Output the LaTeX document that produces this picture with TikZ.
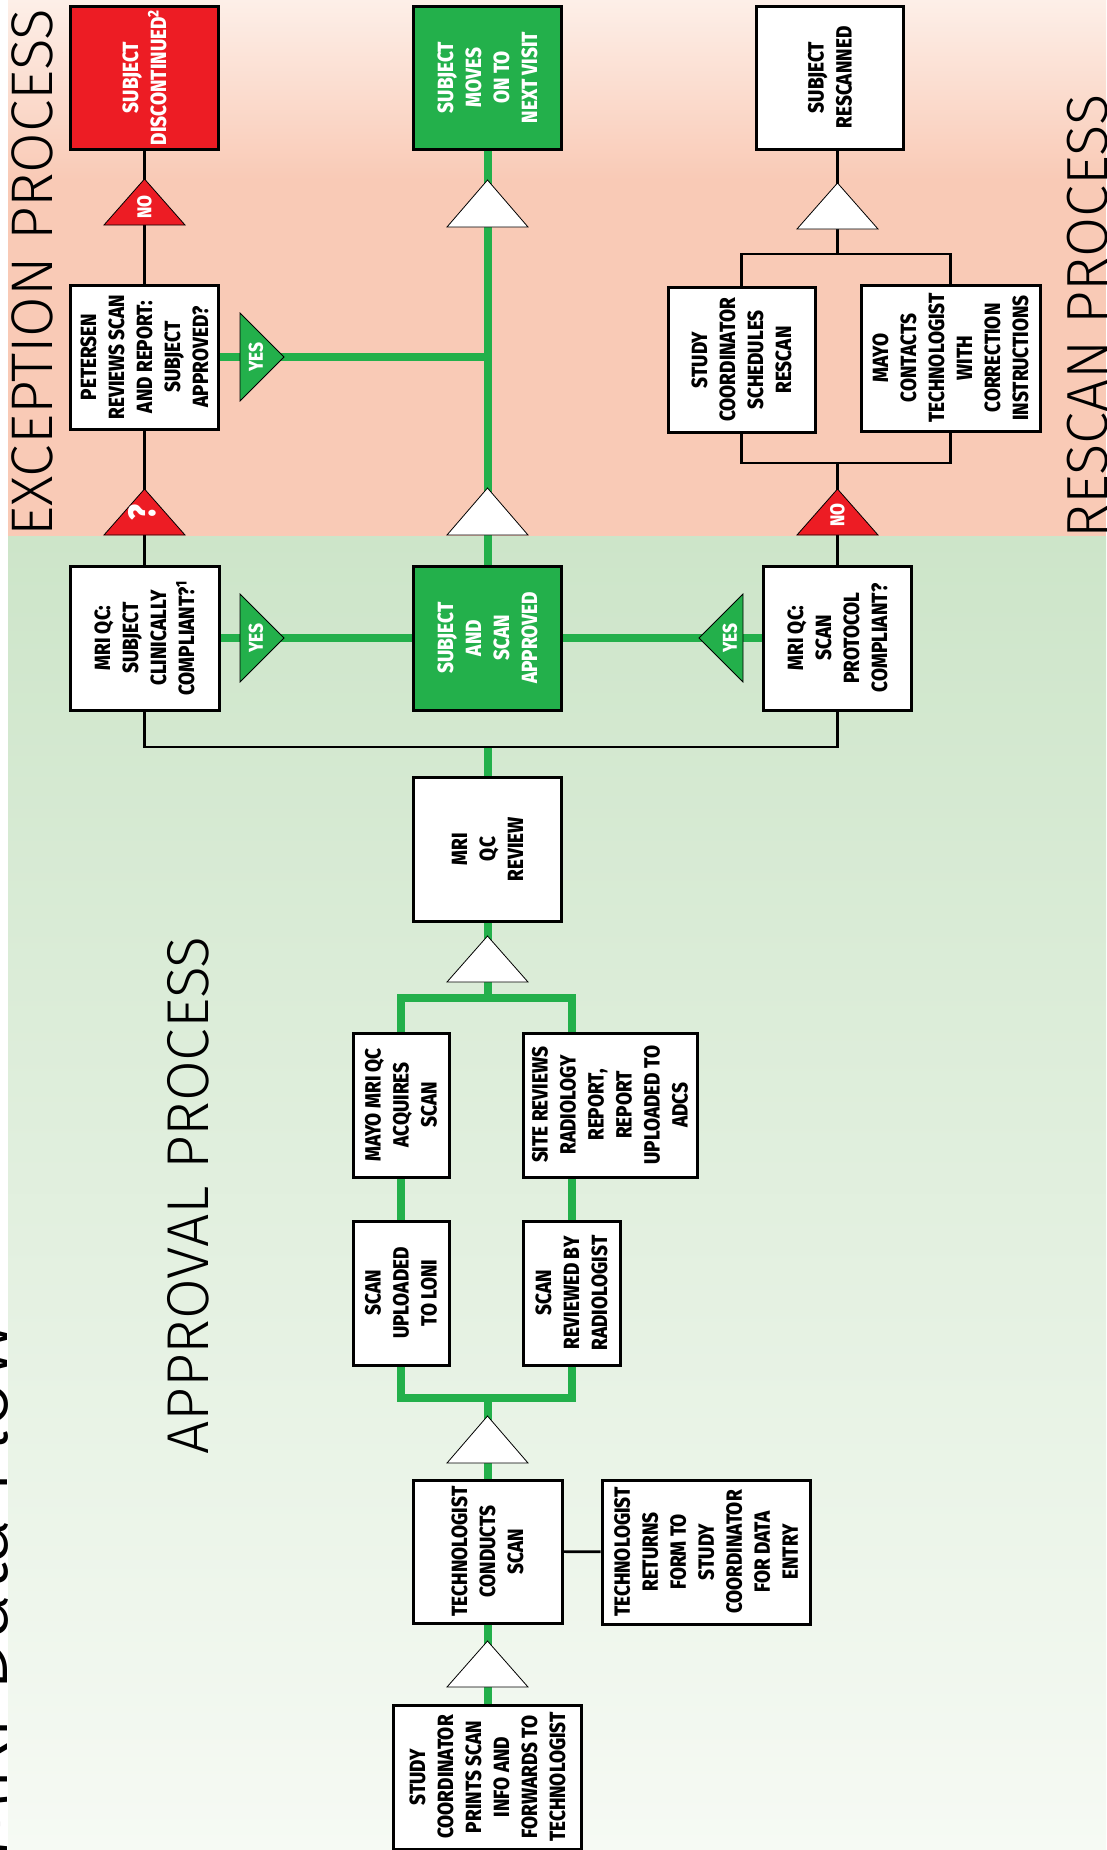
\documentclass[tikz,border=0pt]{standalone}
\usepackage{fontspec}
\setmainfont{Fira Sans}
\newfontfamily\boxfont{Fira Sans}[FakeStretch=0.86, BoldFont={Fira Sans ExtraBold}]
\newfontfamily\headfont{Fira Sans Light}
\usetikzlibrary{calc}
\pgfdeclarelayer{back}
\pgfdeclarelayer{wires}
\pgfsetlayers{back,wires,main}

\tikzset{
  box/.style={draw=black, line width=3pt, fill=white, rotate=90, align=center,
    inner sep=0pt, font=\boxfont\bfseries\fontsize{22}{28}\selectfont},
  head/.style={rotate=90, inner sep=0pt, anchor=base west, text=black},
  wire/.style={draw=black, line width=2.6pt, line join=miter},
  flow/.style={draw=r35g176b75, line width=8pt, line join=miter},
  tri/.style={draw=black, line width=0.8pt},
  tlabel/.style={rotate=90, inner sep=0pt, text=white,
    font=\boxfont\bfseries\fontsize{20}{20}\selectfont}
}

\begin{document}
\begin{tikzpicture}[x=1pt,y=-1pt]
                        \useasboundingbox (0,0) rectangle (1106,1850);

                        % Changing color 237 28 36
                        \definecolor{r237g28b36}{rgb}{0.929412,0.109804,0.141176}%
                        % Changing color 35 176 75
                        \definecolor{r35g176b75}{rgb}{0.137255,0.690196,0.294118}%
                        % Changing color 253 239 232
                        \definecolor{r253g239b232}{rgb}{0.992157,0.937255,0.909804}%
                        % Changing color 249 202 182
                        \definecolor{r249g202b182}{rgb}{0.976471,0.792157,0.713725}%
                        % Changing color 205 229 201
                        \definecolor{r205g229b201}{rgb}{0.803922,0.898039,0.788235}%
                        % Changing color 246 250 244
                        \definecolor{r246g250b244}{rgb}{0.964706,0.980392,0.956863}%

                        % Filling bands
                        \begin{pgfonlayer}{back}
                        \fill[white] (0,0) rectangle (1106,1850);
                        \shade[top color=r253g239b232, bottom color=r249g202b182] (8,0) rectangle (1106,180);
                        \fill[r249g202b182] (8,179) rectangle (1106,536);
                        \shade[top color=r205g229b201, bottom color=r246g250b244] (8,536) rectangle (1106,1850);
                        \end{pgfonlayer}

                        % Writing titles
                        \node[head, font=\headfont\fontsize{86}{86}\selectfont] (title) at (7,1858) {MRI Data Flow};
                        \node[head, font=\headfont\fontsize{58.7}{58.7}\selectfont] (exch) at (52,537) {EXCEPTION PROCESS};
                        \node[head, font=\headfont\fontsize{58}{58}\selectfont] (resch) at (1107,539) {RESCAN PROCESS};
                        \node[head, font=\headfont\fontsize{59}{59}\selectfont] (apprh) at (208,1455) {APPROVAL PROCESS};

                        % Marking boxes of row A
                        \node[box, minimum width=143pt, minimum height=148pt, fill=r237g28b36, text=white] (disc) at (144.5,77.5) {SUBJECT\\DISCONTINUED\textsuperscript{2}};
                        \node[box, minimum width=143pt, minimum height=148pt, fill=r35g176b75, text=white] (nextv) at (487.5,77.5) {SUBJECT\\MOVES\\ON TO\\NEXT VISIT};
                        \node[box, minimum width=143pt, minimum height=147pt] (resc) at (830,77.5) {SUBJECT\\RESCANNED};

                        % Marking boxes of row B
                        \node[box, minimum width=144pt, minimum height=148pt] (peter) at (144.5,357) {PETERSEN\\REVIEWS SCAN\\AND REPORT:\\SUBJECT\\APPROVED?};
                        \node[box, minimum width=145pt, minimum height=147pt] (sched) at (741.5,360) {STUDY\\COORDINATOR\\SCHEDULES\\RESCAN};
                        \node[box, minimum width=146pt, minimum height=179pt] (contact) at (950.5,358) {MAYO\\CONTACTS\\TECHNOLOGIST\\WITH\\CORRECTION\\INSTRUCTIONS};

                        % Marking boxes of row C
                        \node[box, minimum width=144pt, minimum height=149pt] (clin) at (144.5,638) {MRI QC:\\SUBJECT\\CLINICALLY\\COMPLIANT?\textsuperscript{1}};
                        \node[box, minimum width=144pt, minimum height=148pt, fill=r35g176b75, text=white] (apprv) at (487.5,638) {SUBJECT\\AND\\SCAN\\APPROVED};
                        \node[box, minimum width=144pt, minimum height=148pt] (prot) at (837.5,638) {MRI QC:\\SCAN\\PROTOCOL\\COMPLIANT?};

                        % Marking boxes of the review part
                        \node[box, minimum width=144pt, minimum height=148pt] (review) at (487.5,849) {MRI\\QC\\REVIEW};
                        \node[box, minimum width=144pt, minimum height=96pt] (acquire) at (401,1105) {MAYO MRI QC\\ACQUIRES\\SCAN};
                        \node[box, minimum width=144pt, minimum height=174pt] (site) at (610,1105) {SITE REVIEWS\\RADIOLOGY\\REPORT,\\REPORT\\UPLOADED TO\\ADCS};
                        \node[box, minimum width=144pt, minimum height=96pt] (loni) at (401,1293) {SCAN\\UPLOADED\\TO LONI};
                        \node[box, minimum width=144pt, minimum height=97pt] (radiol) at (571.5,1293) {SCAN\\REVIEWED BY\\RADIOLOGIST};

                        % Marking boxes of the scan part
                        \node[box, minimum width=143pt, minimum height=149pt] (conduct) at (487.5,1551.5) {TECHNOLOGIST\\CONDUCTS\\SCAN};
                        \node[box, minimum width=144pt, minimum height=208pt] (returns) at (706,1552) {TECHNOLOGIST\\RETURNS\\FORM TO\\STUDY\\COORDINATOR\\FOR DATA\\ENTRY};
                        \node[box, minimum width=144pt, minimum height=188pt] (prints) at (487.5,1777) {STUDY\\COORDINATOR\\PRINTS SCAN\\INFO AND\\FORWARDS TO\\TECHNOLOGIST};

                        \coordinate (qcbr) at (487.5,747);
                        \coordinate (upbr) at (837.5,254);
                        \coordinate (lowbr) at (837.5,463);
                        \coordinate (upgr) at (487.5,998);
                        \coordinate (lowgr) at (487.5,1398);

                        \begin{pgfonlayer}{wires}
                        % Drawing line green scan chain
                        \draw[flow] (prints) -- (conduct);
                        \draw[flow] (conduct) -- (lowgr);
                        \draw[flow] (loni.west) -- (loni.west |- lowgr) -- (radiol.west |- lowgr) -- (radiol.west);
                        \draw[flow] (loni) -- (acquire);
                        \draw[flow] (radiol.east) -- (radiol.east |- site.west);
                        \draw[flow] (acquire.east) -- (acquire.east |- upgr) -- (radiol.east |- upgr) -- (radiol.east |- site.east);
                        \draw[flow] (upgr) -- (review);
                        \draw[flow] (review) -- (qcbr);

                        % Drawing line black form return
                        \draw[wire] (conduct) -- (returns);

                        % Drawing line black QC bracket
                        \draw[wire] (clin.west) -- (clin.west |- qcbr) -- (prot.west |- qcbr) -- (prot.west);

                        % Drawing line green approval
                        \draw[flow] (clin) -- (apprv);
                        \draw[flow] (prot) -- (apprv);
                        \draw[flow] (apprv) -- (nextv);
                        \draw[flow] (peter.south) -- (peter.south -| apprv);

                        % Drawing line black exception
                        \draw[wire] (clin) -- (peter);
                        \draw[wire] (peter) -- (disc);

                        % Drawing line black rescan
                        \draw[wire] (prot) -- (lowbr);
                        \draw[wire] (sched.west) -- (sched.west |- lowbr) -- (contact.west |- lowbr) -- (contact.west);
                        \draw[wire] (sched.east) -- (sched.east |- upbr) -- (contact.east |- upbr) -- (contact.east);
                        \draw[wire] (upbr) -- (upbr |- resc.west);
                        \end{pgfonlayer}

                        % Filling white triangles
                        \filldraw[tri, fill=white] (487.5,180) -- ++(40.5,47) -- ++(-81,0) -- cycle;
                        \filldraw[tri, fill=white] (487.5,488) -- ++(40.5,47) -- ++(-81,0) -- cycle;
                        \filldraw[tri, fill=white] (837.5,183) -- ++(40.5,46) -- ++(-81,0) -- cycle;
                        \filldraw[tri, fill=white] (487.5,936) -- ++(40.5,46) -- ++(-81,0) -- cycle;
                        \filldraw[tri, fill=white] (487.5,1416) -- ++(40.5,47) -- ++(-81,0) -- cycle;
                        \filldraw[tri, fill=white] (487.5,1641) -- ++(40.5,46) -- ++(-81,0) -- cycle;

                        % Filling red triangles
                        \filldraw[tri, fill=r237g28b36] (144.5,179) -- ++(40.5,46) -- ++(-81,0) -- cycle;
                        \filldraw[tri, fill=r237g28b36] (144.5,489) -- ++(40.5,46) -- ++(-81,0) -- cycle;
                        \filldraw[tri, fill=r237g28b36] (837.5,489) -- ++(40.5,46) -- ++(-81,0) -- cycle;
                        \node[tlabel] (noex) at (144.5,207) {NO};
                        \node[tlabel, font=\boxfont\bfseries\fontsize{38}{38}\selectfont] (ask) at (142,513) {?};
                        \node[tlabel] (nore) at (837.5,515) {NO};

                        % Filling green triangles
                        \filldraw[tri, fill=r35g176b75] (240,313) -- (284,357) -- (240,401) -- cycle;
                        \filldraw[tri, fill=r35g176b75] (240,594) -- (284,638) -- (240,682) -- cycle;
                        \filldraw[tri, fill=r35g176b75] (743,594) -- (699,638) -- (743,682) -- cycle;
                        \node[tlabel] (yespe) at (256,357) {YES};
                        \node[tlabel] (yescl) at (256,638) {YES};
                        \node[tlabel] (yespr) at (730,638) {YES};
                    \end{tikzpicture}
\end{document}
